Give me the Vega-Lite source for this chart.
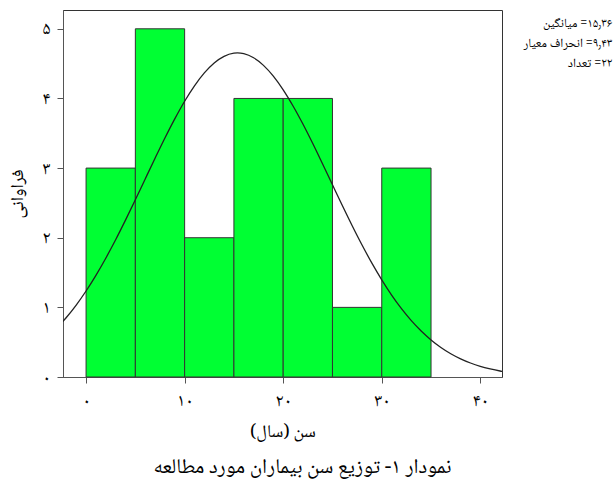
{
  "$schema": "https://vega.github.io/schema/vega-lite/v6.json",
  "autosize": "none",
  "width": 439,
  "height": 367,
  "padding": {"left": 63, "top": 10, "right": 113, "bottom": 110},
  "background": "white",
  "config": {
    "font": "Noto Naskh Arabic, Noto Sans Arabic, DejaVu Sans",
    "view": {"stroke": "#333", "strokeWidth": 1},
    "axis": {"grid": false, "domainColor": "#555", "tickColor": "#555", "labelColor": "#000", "titleColor": "#000", "titleFontWeight": "normal"}
  },
  "title": {
    "text": "\u200fنمودار ۱- توزیع سن بیماران مورد مطالعه\u200f",
    "orient": "bottom",
    "fontSize": 21,
    "fontWeight": "normal",
    "color": "#000",
    "offset": 16,
    "dx": 20
  },
  "datasets": {
    "bins": [
      {"bin_start": 0, "bin_end": 5, "count": 3},
      {"bin_start": 5, "bin_end": 10, "count": 5},
      {"bin_start": 10, "bin_end": 15, "count": 2},
      {"bin_start": 15, "bin_end": 20, "count": 4},
      {"bin_start": 20, "bin_end": 25, "count": 4},
      {"bin_start": 25, "bin_end": 30, "count": 1},
      {"bin_start": 30, "bin_end": 35, "count": 3}
    ],
    "curve": [
      {"age": -3, "freq": 0.699}, {"age": -2, "freq": 0.855}, {"age": -1, "freq": 1.033},
      {"age": 0, "freq": 1.235}, {"age": 1, "freq": 1.460}, {"age": 2, "freq": 1.706},
      {"age": 3, "freq": 1.971}, {"age": 4, "freq": 2.253}, {"age": 5, "freq": 2.545},
      {"age": 6, "freq": 2.844}, {"age": 7, "freq": 3.141}, {"age": 8, "freq": 3.432},
      {"age": 9, "freq": 3.707}, {"age": 10, "freq": 3.960}, {"age": 11, "freq": 4.182},
      {"age": 12, "freq": 4.367}, {"age": 13, "freq": 4.510}, {"age": 14, "freq": 4.605},
      {"age": 15, "freq": 4.650}, {"age": 15.36, "freq": 4.654}, {"age": 16, "freq": 4.643},
      {"age": 17, "freq": 4.584}, {"age": 18, "freq": 4.475}, {"age": 19, "freq": 4.320},
      {"age": 20, "freq": 4.123}, {"age": 21, "freq": 3.891}, {"age": 22, "freq": 3.632},
      {"age": 23, "freq": 3.352}, {"age": 24, "freq": 3.058}, {"age": 25, "freq": 2.760},
      {"age": 26, "freq": 2.462}, {"age": 27, "freq": 2.172}, {"age": 28, "freq": 1.895},
      {"age": 29, "freq": 1.635}, {"age": 30, "freq": 1.395}, {"age": 31, "freq": 1.176},
      {"age": 32, "freq": 0.981}, {"age": 33, "freq": 0.809}, {"age": 34, "freq": 0.660},
      {"age": 35, "freq": 0.532}, {"age": 36, "freq": 0.424}, {"age": 37, "freq": 0.334},
      {"age": 38, "freq": 0.261}, {"age": 39, "freq": 0.201}, {"age": 40, "freq": 0.153},
      {"age": 41, "freq": 0.116}, {"age": 42, "freq": 0.086}, {"age": 43, "freq": 0.063}
    ]
  },
  "layer": [
    {
      "data": {"name": "bins"},
      "mark": {"type": "rect", "fill": "#00ff33", "stroke": "#333", "strokeWidth": 1},
      "encoding": {
        "x": {
          "field": "bin_start", "type": "quantitative",
          "scale": {"domain": [-2.34, 42.2], "nice": false, "zero": false},
          "axis": {
            "title": "\u200fسن (سال)\u200f",
            "titleFontSize": 18,
            "titlePadding": 13,
            "values": [0, 10, 20, 30, 40],
            "labelExpr": "['۰','۱۰','۲۰','۳۰','۴۰'][datum.value/10]",
            "labelFontSize": 18,
            "labelPadding": 8,
            "tickSize": 6
          }
        },
        "x2": {"field": "bin_end"},
        "y": {
          "field": "count", "type": "quantitative",
          "scale": {"domain": [0, 5.27], "nice": false},
          "axis": {
            "title": "فراوانی",
            "titleFontSize": 18,
            "titlePadding": 15,
            "values": [0, 1, 2, 3, 4, 5],
            "labelExpr": "['۰','۱','۲','۳','۴','۵'][datum.value]",
            "labelFontSize": 18,
            "labelPadding": 7,
            "tickSize": 6
          }
        },
        "y2": {"datum": 0}
      }
    },
    {
      "data": {"name": "curve"},
      "mark": {"type": "line", "color": "#222", "strokeWidth": 1.3, "clip": true, "interpolate": "monotone"},
      "encoding": {
        "x": {"field": "age", "type": "quantitative"},
        "y": {"field": "freq", "type": "quantitative"}
      }
    },
    {
      "data": {"values": [{}]},
      "mark": {
        "type": "text",
        "text": ["\u200f۱۵٫۳۶= میانگین", "\u200f۹٫۴۳= انحراف معیار", "\u200f۲۲= تعداد"],
        "align": "right",
        "baseline": "middle",
        "fontSize": 12.5,
        "lineHeight": 20,
        "color": "#000"
      },
      "encoding": {
        "x": {"datum": 53.4},
        "y": {"datum": 5.08}
      }
    }
  ]
}
